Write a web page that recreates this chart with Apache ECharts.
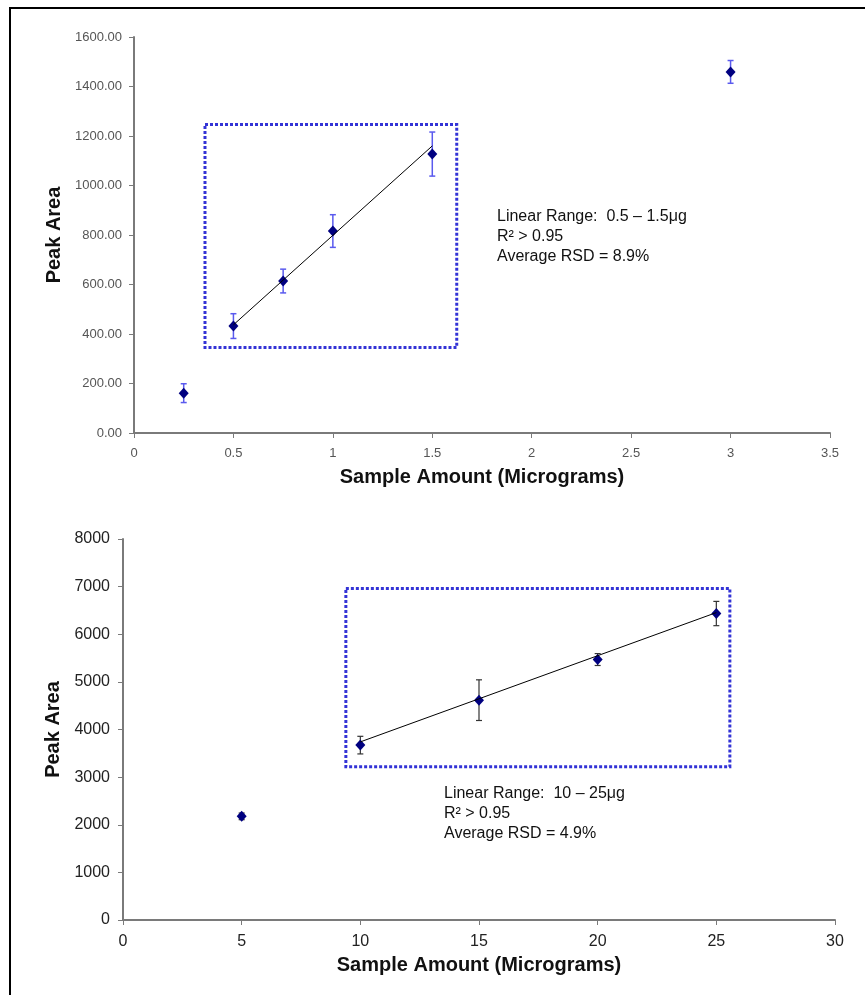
<!DOCTYPE html>
<html>
<head>
<meta charset="utf-8">
<script src="https://cdn.jsdelivr.net/npm/echarts@6/dist/echarts.min.js"></script>
<style>
  html, body { margin: 0; padding: 0; background: #fff; }
  #main { width: 865px; height: 995px; }
</style>
</head>
<body>
<div id="main"></div>
<script>
// top chart: 0.25 - 3 micrograms
var topX = [0.25, 0.5, 0.75, 1, 1.5, 3];
var topY = [161, 432, 614, 816, 1127, 1459];
var topErr = [38, 50, 48, 66, 89, 46];
var topTrendX = [0.5, 1.5];
var topTrendY = [437, 1160];
var topBoxX = [0.357, 1.623];
var topBoxY = [345, 1246];
var topNote = ['Linear Range:  0.5 – 1.5μg', 'R² > 0.95', 'Average RSD = 8.9%'];

// bottom chart: 5 - 25 micrograms
var botX = [5, 10, 15, 20, 25];
var botY = [2176, 3672, 4616, 5469, 6435];
var botErr = [70, 185, 427, 125, 255];
var botTrendX = [10, 25];
var botTrendY = [3740, 6455];
var botBoxX = [9.39, 25.57];
var botBoxY = [3216, 6959];
var botNote = ['Linear Range:  10 – 25μg', 'R² > 0.95', 'Average RSD = 4.9%'];

var FONT = '"Liberation Sans", Arial, sans-serif';

function pts(xs, ys) {
    return xs.map(function (x, i) { return [x, ys[i]]; });
}
function errData(xs, ys, es) {
    return xs.map(function (x, i) { return [x, ys[i] - es[i], ys[i] + es[i]]; });
}
function errBars(color, width) {
    return function (params, api) {
        var lo = api.coord([api.value(0), api.value(1)]);
        var hi = api.coord([api.value(0), api.value(2)]);
        var w = 3;
        var st = { stroke: color, lineWidth: width };
        return {
            type: 'group',
            children: [
                { type: 'line', shape: { x1: lo[0], y1: lo[1], x2: hi[0], y2: hi[1] }, style: st },
                { type: 'line', shape: { x1: lo[0] - w, y1: lo[1], x2: lo[0] + w, y2: lo[1] }, style: st },
                { type: 'line', shape: { x1: hi[0] - w, y1: hi[1], x2: hi[0] + w, y2: hi[1] }, style: st }
            ]
        };
    };
}
function box(bx, by) {
    return {
        silent: true,
        label: { show: false },
        itemStyle: { color: 'rgba(0,0,0,0)', borderColor: '#3333d6', borderWidth: 3, borderType: [3, 2] },
        emphasis: { disabled: true },
        data: [[{ coord: [bx[0], by[1]] }, { coord: [bx[1], by[0]] }]]
    };
}
function note(lines, left, top) {
    return {
        type: 'text', left: left, top: top, silent: true,
        style: { text: lines.join('\n'), font: '16px ' + FONT, fill: '#111', lineHeight: 20 }
    };
}

var axisLine = { show: true, lineStyle: { color: '#7a7a7a', width: 2 } };
var axisTick = { show: true, length: 5, lineStyle: { color: '#7a7a7a', width: 1 } };
var nameStyle = { fontFamily: FONT, fontSize: 20, fontWeight: 'bold', color: '#111' };
var dot = { color: '#000080', opacity: 1 };

var myChart = echarts.init(document.getElementById('main'));

var option = {
    animation: false,
    backgroundColor: '#fff',
    grid: [
        { left: 134, top: 37, width: 696, height: 396 },
        { left: 123, top: 539, width: 712, height: 381 }
    ],
    xAxis: [
        {
            gridIndex: 0, type: 'value', min: 0, max: 3.5, interval: 0.5,
            name: 'Sample Amount (Micrograms)', nameLocation: 'middle', nameGap: 34, nameTextStyle: nameStyle,
            axisLine: axisLine, axisTick: axisTick, splitLine: { show: false },
            axisLabel: { margin: 14, fontFamily: FONT, fontSize: 13, color: '#555' }
        },
        {
            gridIndex: 1, type: 'value', min: 0, max: 30, interval: 5,
            name: 'Sample Amount (Micrograms)', nameLocation: 'middle', nameGap: 35, nameTextStyle: nameStyle,
            axisLine: axisLine, axisTick: axisTick, splitLine: { show: false },
            axisLabel: { margin: 14, fontFamily: FONT, fontSize: 16, color: '#222' }
        }
    ],
    yAxis: [
        {
            gridIndex: 0, type: 'value', min: 0, max: 1600, interval: 200,
            name: 'Peak Area', nameLocation: 'middle', nameGap: 70, nameTextStyle: nameStyle,
            axisLine: axisLine, axisTick: axisTick, splitLine: { show: false },
            axisLabel: {
                margin: 12, fontFamily: FONT, fontSize: 13, color: '#555',
                formatter: function (v) { return v.toFixed(2); }
            }
        },
        {
            gridIndex: 1, type: 'value', min: 0, max: 8000, interval: 1000,
            name: 'Peak Area', nameLocation: 'middle', nameGap: 58, nameTextStyle: nameStyle,
            axisLine: axisLine, axisTick: axisTick, splitLine: { show: false },
            axisLabel: {
                margin: 13, fontFamily: FONT, fontSize: 16, color: '#222',
                formatter: function (v) { return String(v); }
            }
        }
    ],
    series: [
        {
            type: 'line', xAxisIndex: 0, yAxisIndex: 0, data: pts(topTrendX, topTrendY),
            symbol: 'none', silent: true, lineStyle: { color: '#000', width: 1 },
            markArea: box(topBoxX, topBoxY)
        },
        {
            type: 'custom', xAxisIndex: 0, yAxisIndex: 0, data: errData(topX, topY, topErr),
            renderItem: errBars('#5a5aee', 1.5), silent: true
        },
        {
            type: 'scatter', xAxisIndex: 0, yAxisIndex: 0, data: pts(topX, topY),
            symbol: 'diamond', symbolSize: [10, 11], itemStyle: dot
        },
        {
            type: 'line', xAxisIndex: 1, yAxisIndex: 1, data: pts(botTrendX, botTrendY),
            symbol: 'none', silent: true, lineStyle: { color: '#000', width: 1 },
            markArea: box(botBoxX, botBoxY)
        },
        {
            type: 'custom', xAxisIndex: 1, yAxisIndex: 1, data: errData(botX, botY, botErr),
            renderItem: errBars('#333', 1.2), silent: true
        },
        {
            type: 'scatter', xAxisIndex: 1, yAxisIndex: 1, data: pts(botX, botY),
            symbol: 'diamond', symbolSize: [10, 11], itemStyle: dot
        }
    ],
    graphic: [
        {
            type: 'polyline', silent: true,
            shape: { points: [[10, 995], [10, 8], [865, 8]] },
            style: { stroke: '#000', lineWidth: 2, fill: null }
        },
        note(topNote, 497, 207),
        note(botNote, 444, 784)
    ]
};

myChart.setOption(option);
</script>
</body>
</html>
